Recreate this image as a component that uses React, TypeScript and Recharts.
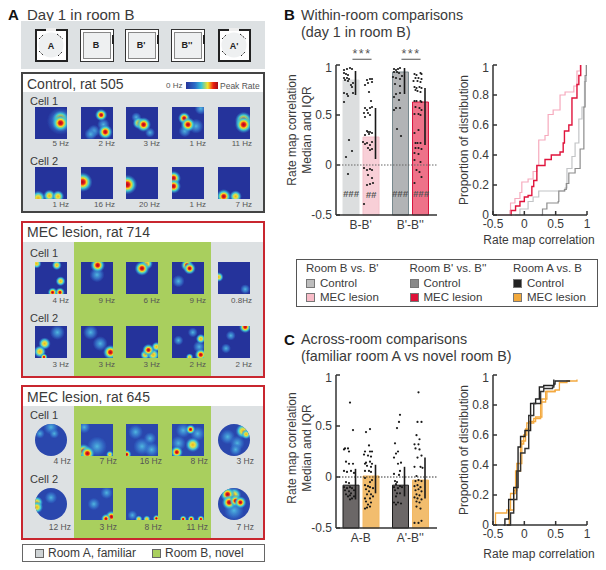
import React from "react";
import { BarChart, Bar, Cell, XAxis, YAxis, ScatterChart, Scatter, ReferenceLine, LineChart, Line } from "recharts";

const FONT = '"Liberation Sans", Arial, sans-serif';
const INK = "#3a3a3a";

// ---- panel B values
const withinCats = ["B-B'", "B'-B''"];
const withinMedians = [0.85, 0.28, 0.93, 0.63];
const withinIqr = [[0.7, 0.94], [0.06, 0.57], [0.71, 0.97], [0.2, 0.77]];
const ctlBB = [[-7,.95],[-4,.96],[-1,.97],[1,.96],[-7,.92],[-5,.91],[-3,.90],[-7,.87],[-4,.87],[-2,.86],[-6,.85],[-3,.84],[2,.82],[0,.80],[1,.78],[-7,.72],[-4,.71],[-3,.69],[2,.72],[-7,.63],[-2,.25],[-5,.08],[1,.14],[-3,-.09]];
const lesBB = [[-4,.85],[-1,.86],[1,.86],[-3,.82],[1,.83],[-6,.80],[-2,.73],[0,.64],[-6,.57],[-1,.57],[1,.58],[-4,.55],[-7,.52],[-3,.52],[-6,.48],[-1,.50],[-4,.34],[-3,.33],[-1,.33],[-6,.30],[-2,.31],[1,.32],[-8,.23],[-4,.22],[1,.23],[-6,.21],[-1,.20],[-3,.17],[-1,.15],[1,.16],[-7,-.03],[-4,-.05],[-1,-.04],[1,-.05],[-3,-.10],[1,-.13],[-4,-.20],[-1,-.19],[2,-.18],[-7,-.39]];
const ctlBBB = [[-6,.96],[-4,.95],[-2,.96],[0,.97],[-6,.93],[-3,.93],[-1,.92],[2,.89],[-7,.88],[-4,.87],[0,.86],[-5,.81],[0,.79],[-4,.71],[0,.72],[-6,.68],[-1,.65],[-4,.57],[-6,.55],[0,.57],[-3,.36],[1,.29]];
const lesBBB = [[-6,.91],[-4,.90],[0,.92],[1,.91],[-5,.87],[-2,.87],[1,.86],[-7,.84],[-3,.84],[0,.83],[-6,.78],[-4,.77],[-1,.78],[1,.77],[-5,.75],[-3,.74],[0,.73],[-6,.64],[-4,.64],[0,.64],[1,.63],[-5,.58],[-1,.57],[1,.55],[-6,.51],[-2,.51],[0,.50],[-6,.32],[-2,.35],[-5,.22],[-3,.22],[0,.22],[-5,.17],[-2,.17],[1,.16],[-6,.12],[-2,.11],[-6,.05],[0,.03],[-4,-.05],[-1,-.07],[1,-.12],[-6,-.18]];
const cdfCtlBB = [[-.15,0],[-.07,.04],[.01,.04],[.06,.09],[.14,.12],[.23,.16],[.52,.16],[.65,.18],[.68,.31],[.76,.39],[.81,.48],[.87,.64],[.92,.72],[.96,.89],[.99,1]];
const cdfLesBB = [[-.42,0],[-.23,.03],[-.22,.08],[-.15,.11],[-.07,.15],[-.04,.22],[.06,.24],[.14,.29],[.20,.33],[.23,.50],[.33,.53],[.38,.67],[.46,.70],[.57,.80],[.65,.82],[.79,.86],[.84,.96],[.89,1]];
const cdfCtlBBB = [[.27,0],[.29,.04],[.36,.08],[.54,.09],[.55,.16],[.64,.17],[.67,.21],[.71,.28],[.81,.31],[.89,.44],[.95,.72],[.97,.93],[.99,1]];
const cdfLesBBB = [[-.22,0],[-.21,.03],[-.14,.06],[-.07,.09],[0,.12],[.06,.13],[.12,.19],[.15,.23],[.20,.33],[.29,.33],[.33,.37],[.43,.40],[.52,.40],[.57,.42],[.62,.48],[.64,.56],[.71,.60],[.76,.78],[.84,.87],[.87,.93],[.90,1]];

// ---- panel C values
const acrossCats = ["A-B", "A'-B''"];
const acrossMedians = [-0.08, 0.01, -0.08, -0.03];
const acrossIqr = [[-0.22, 0.08], [-0.16, 0.12], [-0.19, 0.1], [-0.21, 0.19]];
const ctlAB = [[-1,.73],[2,.46],[-6,.28],[-3,.28],[-7,.27],[-2,.25],[-5,.15],[-2,.13],[2,.13],[-7,.06],[-4,.05],[0,.06],[3,.04],[-5,-.05],[-2,-.06],[-7,-.10],[-4,-.11],[-1,-.10],[1,-.11],[3,-.13],[-6,-.13],[-2,-.14],[0,-.16],[-5,-.17],[-1,-.18],[-3,-.19],[3,-.19],[-1,-.22],[1,-.21]];
const lesAB = [[-1,.47],[-5,.44],[-2,.31],[-6,.25],[-1,.25],[1,.25],[-7,.22],[-3,.21],[0,.20],[-5,.14],[-1,.15],[1,.13],[-6,.13],[-4,.11],[0,.10],[-6,.06],[-2,.06],[0,.05],[-6,-.01],[-1,-.05],[1,-.03],[-6,-.08],[-3,-.09],[-1,-.10],[2,-.11],[-5,-.12],[-2,-.14],[-4,-.17],[0,-.17],[-6,-.21],[-1,-.21],[2,-.19],[-5,-.24],[0,-.25],[-3,-.27],[-6,-.31],[-4,-.30],[-1,-.29]];
const ctlAB2 = [[0,.61],[-1,.54],[-3,.48],[-5,.33],[-2,.25],[-4,.23],[-6,.19],[1,.14],[-2,.13],[-6,.03],[0,.06],[-1,.02],[-5,-.04],[-3,-.05],[-4,-.07],[0,-.09],[-6,-.10],[-2,-.11],[2,-.10],[-5,-.13],[-3,-.16],[0,-.16],[-4,-.19],[-6,-.25],[-2,-.25],[1,-.26],[-4,-.27]];
const lesAB2 = [[-2,.83],[-3,.54],[1,.54],[-4,.41],[-1,.37],[-6,.32],[-2,.32],[-5,.28],[-1,.27],[1,.21],[-3,.19],[-6,.10],[0,.10],[2,.09],[-4,.01],[-5,-.04],[-2,-.03],[1,-.04],[-6,-.09],[-3,-.08],[0,-.10],[-5,-.13],[-2,-.12],[1,-.14],[-4,-.17],[-1,-.18],[-6,-.20],[-3,-.21],[1,-.22],[-4,-.24],[-1,-.25],[-4,-.29],[0,-.31],[-6,-.45],[-2,-.45],[1,-.43]];
const cdfOrange1 = [[-.5,0],[-.46,.08],[-.31,.08],[-.28,.10],[-.22,.21],[-.14,.36],[-.06,.54],[-.01,.60],[.04,.68],[.15,.71],[.26,.82],[.34,.89],[.49,.90],[.56,.95],[.68,.96],[.84,.97]];
const cdfOrange2 = [[-.28,0],[-.24,.10],[-.17,.23],[-.12,.41],[-.04,.56],[.02,.64],[.07,.69],[.18,.72],[.28,.84],[.36,.89],[.49,.90]];
const cdfBlack1 = [[-.33,0],[-.31,.04],[-.25,.17],[-.17,.25],[-.10,.52],[-.06,.59],[.01,.63],[.10,.81],[.18,.84],[.24,.92],[.31,.93],[.47,.94],[.49,.96],[.73,.96]];
const cdfBlack2 = [[-.28,0],[-.22,.08],[-.17,.17],[-.12,.36],[-.06,.48],[.01,.51],[.07,.73],[.15,.81],[.26,.89],[.31,.91],[.45,.92],[.47,.97]];

// ---- panel A rate maps, each map is a list of fields [x, y, peak, spread]
const rates505 = [["5 Hz", "2 Hz", "3 Hz", "1 Hz", "11 Hz"], ["1 Hz", "16 Hz", "20 Hz", "1 Hz", "7 Hz"]];
const rates714 = [["4 Hz", "9 Hz", "6 Hz", "9 Hz", "0.8Hz"], ["3 Hz", "3 Hz", "3 Hz", "2 Hz", "2 Hz"]];
const rates645 = [["4 Hz", "7 Hz", "16 Hz", "8 Hz", "3 Hz"], ["12 Hz", "3 Hz", "8 Hz", "11 Hz", "7 Hz"]];
const maps505 = [
  [
    [[.8,.38,3,7],[.8,.5,3,7],[.8,.44,1,11]],
    [[.63,.25,3,5],[.76,.78,3,6],[.4,.75,1,5],[.3,.85,1,5],[.7,.55,1,5]],
    [[.55,.55,3,6],[.4,.5,2,5],[.32,.32,1,4],[.75,.8,1,4]],
    [[.38,.35,3,5],[.5,.55,3,6],[.75,.6,1,6],[.4,.75,1,5],[.9,.05,1,5]],
    [[.8,.42,3,7],[.8,.55,3,7]],
  ],
  [
    [[.1,.97,2,6],[.45,.9,2,5],[.72,.92,2,5]],
    [[.05,.47,3,8]],
    [[.04,.55,3,8]],
    [[.05,.35,3,6],[.05,.6,3,6]],
    [[.18,.92,3,6],[.55,.92,2,5]],
  ],
];
const maps714 = [
  [
    [[.05,.05,2,4],[.68,.1,2,4],[.8,.6,2,4],[.55,.95,3,4],[.78,.95,3,4]],
    [[.52,.1,3,6],[.5,.4,1,6]],
    [[.5,.2,3,6],[.65,.05,2,5]],
    [[.47,.1,3,5],[.55,.2,3,5],[.2,.6,1,5]],
    [[.02,.47,2,4],[.85,.85,1,4]],
  ],
  [
    [[.3,.55,2,5],[.15,.8,2,5],[.28,.97,3,3],[.7,.2,1,6]],
    [[.92,.82,3,6],[.6,.55,1,6],[.3,.2,1,6]],
    [[.7,.75,3,5],[.95,.65,2,4],[.6,.9,2,4],[.85,.9,2,5]],
    [[.65,.2,1,4],[.2,.45,1,4],[.9,.4,2,4],[.85,.65,1,5],[.9,.9,3,5],[.55,.97,2,3]],
    [[.85,.03,3,5],[.25,.7,1,4],[.4,.3,1,4]],
  ],
];
const maps645 = [
  [
    [[.5,.1,1,6],[.6,.3,1,4],[.15,.3,1,4]],
    [[.08,.85,3,6],[.2,.92,3,6],[.1,.1,1,5],[.9,.95,2,3],[.5,.7,1,8]],
    [[.02,.95,3,4],[.3,.25,1,6],[.75,.45,1,5],[.5,.7,1,7],[.8,.8,1,6]],
    [[.58,.17,3,4],[.15,.88,3,5],[.65,.65,2,6],[.35,.2,1,6],[.8,.3,1,6],[.2,.6,1,6]],
    [[.78,.22,2,6],[.3,.4,1,6],[.6,.6,1,6],[.88,.32,2,4],[.55,.8,1,5]],
  ],
  [
    [[.06,.45,2,5],[.06,.6,2,5],[.5,.3,1,5]],
    [[.95,.9,3,5],[.78,.96,3,4],[.4,.5,1,5],[.8,.15,1,5]],
    [[.4,.97,2,3],[.65,.97,2,3],[.95,.95,3,3],[.2,.85,1,4]],
    [[.35,.97,3,3],[.6,.97,3,3],[.9,.97,3,3]],
    [[.3,.2,3,6],[.35,.45,3,6],[.55,.4,3,5],[.7,.45,3,5],[.5,.22,2,6],[.5,.7,1,8]],
  ],
];

// ---- legends
const roomGroups = ["Room B vs. B'", "Room B' vs. B''", "Room A vs. B"];
const groupLabels = ["Control", "MEC lesion"];
const legendColors = [["#bdbdbd", "#f8bcc8"], ["#8a8a8a", "#de1238"], ["#222222", "#f2a93c"]];

const T = ({ x, y, size = 12, color = INK, bold = false, right = false, center = false, children, style }: any) => (
  <div
    style={{
      position: "absolute",
      left: x,
      top: y,
      fontFamily: FONT,
      fontSize: size,
      color,
      fontWeight: bold ? 700 : 400,
      lineHeight: 1,
      whiteSpace: "nowrap",
      transform: `translate(${right ? "-100%" : center ? "-50%" : "0"}, -50%)`,
      ...style,
    }}
  >
    {children}
  </div>
);

const VT = ({ x, y, children }: any) => (
  <div
    style={{
      position: "absolute",
      left: x,
      top: y,
      fontFamily: FONT,
      fontSize: 12,
      color: INK,
      lineHeight: 1,
      whiteSpace: "nowrap",
      transform: "translate(-50%, -50%) rotate(-90deg)",
    }}
  >
    {children}
  </div>
);

const Box = ({ x, y, w, h, bg, border, children }: any) => (
  <div style={{ position: "absolute", left: x, top: y, width: w, height: h, background: bg, border, boxSizing: "border-box" }}>{children}</div>
);

const FieldDefs = () => (
  <svg width={0} height={0} style={{ position: "absolute" }}>
    <defs>
      <filter id="soft" x="-30%" y="-30%" width="160%" height="160%">
        <feGaussianBlur stdDeviation="0.7" />
      </filter>
      <radialGradient id="peak3">
        <stop offset="0%" stopColor="#a80a20" />
        <stop offset="22%" stopColor="#e8201c" />
        <stop offset="40%" stopColor="#f8d820" />
        <stop offset="62%" stopColor="#40d0d0" />
        <stop offset="100%" stopColor="#3070d0" stopOpacity={0} />
      </radialGradient>
      <radialGradient id="peak2">
        <stop offset="0%" stopColor="#f0b020" />
        <stop offset="30%" stopColor="#e8e040" />
        <stop offset="60%" stopColor="#40c8d8" />
        <stop offset="100%" stopColor="#3070d0" stopOpacity={0} />
      </radialGradient>
      <radialGradient id="peak1">
        <stop offset="0%" stopColor="#50b8e0" />
        <stop offset="55%" stopColor="#3a80d0" stopOpacity={0.75} />
        <stop offset="100%" stopColor="#3070d0" stopOpacity={0} />
      </radialGradient>
    </defs>
  </svg>
);

function RateMap({ fields, x, y, round = false, bg = "#25339b" }: any) {
  const data = fields
    .map((f: number[]) => ({ x: f[0], y: f[1], peak: f[2], spread: f[3] }))
    .sort((a: any, b: any) => a.peak - b.peak);
  return (
    <div style={{ position: "absolute", left: x, top: y, width: 32, height: 32, overflow: "hidden", borderRadius: round ? "50%" : 0 }}>
      <ScatterChart width={32} height={32} margin={{ top: 0, right: 0, bottom: 0, left: 0 }} style={{ background: bg }}>
        <XAxis type="number" dataKey="x" domain={[0, 1]} hide />
        <YAxis type="number" dataKey="y" domain={[0, 1]} reversed hide />
        <Scatter
          data={data}
          isAnimationActive={false}
          shape={(p: any) => <circle cx={p.cx} cy={p.cy} r={p.payload.spread * 1.25} fill={`url(#peak${p.payload.peak})`} filter="url(#soft)" />}
        />
      </ScatterChart>
    </div>
  );
}

const columns = [35, 81, 126, 172, 218];

function MapRow({ maps, rates, y, labelY, round = [], bg, labelSize = 8, labelOff = 34 }: any) {
  return (
    <>
      {maps.map((fields: any, i: number) => (
        <RateMap key={i} fields={fields} x={columns[i]} y={y} round={round.includes(i)} bg={bg} />
      ))}
      {rates.map((r: string, i: number) => (
        <T key={i} x={columns[i] + labelOff} y={labelY} size={labelSize} color="#555" right>
          {r}
        </T>
      ))}
    </>
  );
}

function RoomSquare({ x, label }: any) {
  return (
    <Box x={x} y={29} w={34} h={33} bg="#fff" border="1px solid #333">
      <Box x={2} y={2} w={28} h={27} bg="#eef0f1" border="1.5px solid #888" />
      <div style={{ position: "absolute", right: -1, top: 5, width: 2.5, height: 9, background: "#222" }} />
      <T x={15} y={15} size={9} bold color="#222" center>
        {label}
      </T>
    </Box>
  );
}

function RoomRound({ x, label }: any) {
  return (
    <Box x={x} y={29} w={33} h={33} bg="#fff" border="2.5px solid #222">
      <svg width={28} height={28} style={{ position: "absolute", left: 0, top: 0 }}>
        <circle cx={14} cy={14} r={12.5} fill="#eef0f1" />
        <path d="M2 8 L7 3 M20 3 L26 8 M2 20 L7 25 M21 25 L26 20" stroke="#222" strokeWidth={1} strokeDasharray="2 1.5" fill="none" />
      </svg>
      <div style={{ position: "absolute", left: 9, top: -3, width: 10, height: 3, background: "#eee" }} />
      <T x={14} y={15} size={9} bold color="#222" center>
        {label}
      </T>
    </Box>
  );
}

function Bars({ top, plotH, cats, medians, iqr, dots, fills, strokes, dotted }: any) {
  const centers = [15, 35, 64, 84.5];
  const rows = cats.map((c: string, i: number) => ({
    cat: c,
    control: [-0.5, medians[i * 2]],
    lesion: [-0.5, medians[i * 2 + 1]],
  }));
  return (
    <div style={{ position: "absolute", left: 300, top: top - 5 }}>
      <BarChart width={137} height={plotH + 27} data={rows} margin={{ top: 5, right: 0, bottom: 0, left: 0 }} barSize={16} barGap={4}>
        <XAxis
          dataKey="cat"
          height={22}
          interval={0}
          padding={{ left: 0, right: 2 }}
          tickLine={false}
          tickSize={0}
          tickMargin={5}
          axisLine={{ stroke: "#333", strokeWidth: 1.5 }}
          tick={{ fontSize: 12, fontFamily: FONT, fill: INK }}
        />
        <YAxis
          type="number"
          domain={[-0.5, 1]}
          ticks={[-0.5, 0, 0.5, 1]}
          width={36}
          tickSize={-4}
          tickMargin={8}
          axisLine={{ stroke: "#333", strokeWidth: 1.5 }}
          tickLine={{ stroke: "#333", strokeWidth: 1.5 }}
          tick={{ fontSize: 12, fontFamily: FONT, fill: INK }}
        />
        <Bar dataKey="control" isAnimationActive={false}>
          {cats.map((_: string, i: number) => (
            <Cell key={i} fill={fills[i * 2]} stroke={strokes[i * 2]} />
          ))}
        </Bar>
        <Bar dataKey="lesion" isAnimationActive={false}>
          {cats.map((_: string, i: number) => (
            <Cell key={i} fill={fills[i * 2 + 1]} stroke={strokes[i * 2 + 1]} />
          ))}
        </Bar>
      </BarChart>
      <div style={{ position: "absolute", left: 0, top: 0 }}>
        <ScatterChart width={137} height={plotH + 27} margin={{ top: 5, right: 0, bottom: 22, left: 36 }}>
          <XAxis type="number" dataKey="x" domain={[0, 101]} hide />
          <YAxis type="number" dataKey="y" domain={[-0.5, 1]} hide />
          <ReferenceLine y={0} stroke={dotted} strokeDasharray="1.5 1.5" strokeWidth={1.2} />
          {dots.map((pts: number[][], i: number) => (
            <Scatter
              key={i}
              data={pts.map((d) => ({ x: centers[i] + d[0], y: d[1] }))}
              isAnimationActive={false}
              shape={(p: any) => <circle cx={p.cx} cy={p.cy} r={1.1} fill="#1a1a1a" />}
            />
          ))}
          {iqr.map((q: number[], i: number) => (
            <Scatter
              key={`q${i}`}
              data={q.map((v) => ({ x: centers[i] + 4.5, y: v }))}
              line={{ stroke: "#1a1a1a", strokeWidth: 1.6 }}
              isAnimationActive={false}
              shape={() => <g />}
            />
          ))}
        </ScatterChart>
      </div>
    </div>
  );
}

function Cdf({ top, curves }: any) {
  return (
    <div style={{ position: "absolute", left: 457, top: top - 5 }}>
      <LineChart width={147} height={180} margin={{ top: 5, right: 17, bottom: 0, left: 0 }}>
        <XAxis
          type="number"
          dataKey="x"
          domain={[-0.5, 1]}
          ticks={[-0.5, 0, 0.5, 1]}
          height={25}
          tickSize={-4}
          tickMargin={8}
          axisLine={{ stroke: "#333", strokeWidth: 1.5 }}
          tickLine={{ stroke: "#333", strokeWidth: 1.5 }}
          tick={{ fontSize: 12, fontFamily: FONT, fill: INK }}
        />
        <YAxis
          type="number"
          domain={[0, 1]}
          ticks={[0, 0.2, 0.4, 0.6, 0.8, 1]}
          width={36}
          tickSize={-4}
          tickMargin={8}
          axisLine={{ stroke: "#333", strokeWidth: 1.5 }}
          tickLine={{ stroke: "#333", strokeWidth: 1.5 }}
          tick={{ fontSize: 12, fontFamily: FONT, fill: INK }}
        />
        {curves.map((c: any, i: number) => (
          <Line
            key={i}
            data={c.points.map((d: number[]) => ({ x: d[0], y: d[1] }))}
            dataKey="y"
            type="stepAfter"
            stroke={c.color}
            strokeWidth={c.width}
            dot={false}
            isAnimationActive={false}
          />
        ))}
      </LineChart>
    </div>
  );
}

const starStyle = { textDecoration: "underline", letterSpacing: 1.5 };
const hashStyle = { fontStyle: "italic" };

export default function App() {
  return (
    <div style={{ position: "absolute", left: 0, top: 0, width: 606, height: 570, background: "#fff", overflow: "hidden" }}>
      <FieldDefs />

      {/* panel A */}
      <T x={8} y={14} size={15} bold color="#111">A</T>
      <T x={27} y={14} size={15}>Day 1 in room B</T>
      <Box x={21} y={21} w={244} h={48} bg="#dde1e3" />
      <RoomRound x={35} label="A" />
      <RoomSquare x={80} label="B" />
      <RoomSquare x={125} label="B'" />
      <RoomSquare x={171} label="B''" />
      <RoomRound x={218} label="A'" />

      <Box x={21} y={72} w={244} h={141} bg="#dde1e3" border="2px solid #444" />
      <Box x={23} y={74} w={240} h={18} bg="#fff" />
      <T x={27} y={84} size={14}>Control, rat 505</T>
      <T x={166} y={86} size={8} color="#555">0 Hz</T>
      <div style={{ position: "absolute", left: 186, top: 82, width: 32, height: 7, background: "linear-gradient(90deg,#26349a 0%,#2c6cc8 28%,#38c4d8 48%,#f4e428 68%,#ee2010 85%,#a00c18 100%)" }} />
      <T x={220} y={86} size={8.5} color="#555">Peak Rate</T>
      <T x={30} y={101} size={11}>Cell 1</T>
      <MapRow maps={maps505[0]} rates={rates505[0]} y={107} labelY={144} />
      <T x={30} y={161} size={11}>Cell 2</T>
      <MapRow maps={maps505[1]} rates={rates505[1]} y={167} labelY={205} />

      <Box x={21} y={221} w={244} h={157} bg="#dde1e3" border="2px solid #c8262f" />
      <Box x={23} y={223} w={240} h={19} bg="#fff" />
      <Box x={74} y={242} w={137} h={134} bg="#a9cf5e" />
      <T x={27} y={232} size={14}>MEC lesion, rat 714</T>
      <T x={30} y={253} size={11}>Cell 1</T>
      <MapRow maps={maps714[0]} rates={rates714[0]} y={262} labelY={301} />
      <T x={30} y={318} size={11}>Cell 2</T>
      <MapRow maps={maps714[1]} rates={rates714[1]} y={326} labelY={365} />

      <Box x={21} y={385} w={244} h={155} bg="#dde1e3" border="2px solid #c8262f" />
      <Box x={23} y={387} w={240} h={19} bg="#fff" />
      <Box x={74} y={406} w={137} h={132} bg="#a9cf5e" />
      <T x={27} y={397} size={14}>MEC lesion, rat 645</T>
      <T x={30} y={415} size={11}>Cell 1</T>
      <MapRow maps={maps645[0]} rates={rates645[0]} y={424} labelY={461} round={[0, 4]} bg="#2a47ad" labelSize={8.5} labelOff={36} />
      <T x={30} y={479} size={11}>Cell 2</T>
      <MapRow maps={maps645[1]} rates={rates645[1]} y={488} labelY={527} round={[0, 4]} bg="#2a47ad" labelSize={8.5} labelOff={36} />

      <Box x={22} y={544} w={243} h={18} bg="#fff" border="1px solid #666" />
      <Box x={35} y={549} w={9} h={9} bg="#ced3d5" border="1px solid #666" />
      <T x={48} y={553} size={12}>Room A, familiar</T>
      <Box x={152} y={549} w={9} h={9} bg="#a9cf5e" border="1px solid #666" />
      <T x={165} y={553} size={12}>Room B, novel</T>

      {/* panel B */}
      <T x={284} y={14} size={15} bold color="#111">B</T>
      <T x={301} y={15} size={14.3}>Within-room comparisons</T>
      <T x={301} y={32} size={14.3}>(day 1 in room B)</T>
      <T x={362} y={54} size={12.5} center color="#555" style={starStyle}>***</T>
      <T x={411} y={54} size={12.5} center color="#555" style={starStyle}>***</T>
      <VT x={292} y={130}>Rate map correlation</VT>
      <VT x={307} y={130}>Median and IQR</VT>
      <Bars
        top={65}
        plotH={150}
        cats={withinCats}
        medians={withinMedians}
        iqr={withinIqr}
        dots={[ctlBB, lesBB, ctlBBB, lesBBB]}
        fills={["#dcdedf", "#f8cfd7", "#b2b4b6", "#ee7289"]}
        strokes={["#dcdedf", "#f4c0ca", "#78898e", "#d8163f"]}
        dotted="#666"
      />
      <T x={351} y={194} size={9.5} bold center color="#555" style={hashStyle}>###</T>
      <T x={371} y={195} size={9.5} bold center color="#555" style={hashStyle}>##</T>
      <T x={400} y={194} size={9.5} bold center color="#555" style={hashStyle}>###</T>
      <T x={421} y={194} size={9.5} bold center color="#555" style={hashStyle}>###</T>

      <VT x={464} y={140}>Proportion of distribution</VT>
      <Cdf
        top={65}
        curves={[
          { points: cdfCtlBB, color: "#c2c4c6", width: 1.2 },
          { points: cdfCtlBBB, color: "#8c8c8c", width: 1.2 },
          { points: cdfLesBB, color: "#f6aabd", width: 1.2 },
          { points: cdfLesBBB, color: "#e0143c", width: 1.4 },
        ]}
      />
      <T x={539} y={240} size={12} center>Rate map correlation</T>

      {/* legend */}
      <Box x={296} y={259} w={302} h={48} bg="#fff" border="1px solid #555" />
      {roomGroups.map((g, i) => {
        const colX = [306, 409.5, 513][i];
        return (
          <React.Fragment key={g}>
            <T x={colX} y={269} size={11.5}>{g}</T>
            {groupLabels.map((l, j) => (
              <React.Fragment key={l}>
                <Box x={colX} y={279 + j * 14} w={9} h={9} bg={legendColors[i][j]} border="1px solid #777" />
                <T x={colX + 14} y={283.5 + j * 14} size={11.5}>{l}</T>
              </React.Fragment>
            ))}
          </React.Fragment>
        );
      })}

      {/* panel C */}
      <T x={284} y={339} size={15} bold color="#111">C</T>
      <T x={301} y={339} size={14.3}>Across-room comparisons</T>
      <T x={301} y={356} size={14.3}>(familiar room A vs novel room B)</T>
      <VT x={292} y={448}>Rate map correlation</VT>
      <VT x={307} y={448}>Median and IQR</VT>
      <Bars
        top={375}
        plotH={153}
        cats={acrossCats}
        medians={acrossMedians}
        iqr={acrossIqr}
        dots={[ctlAB, lesAB, ctlAB2, lesAB2]}
        fills={["#6b6767", "#f2bd6e", "#6b6767", "#f2bd6e"]}
        strokes={["#1c1c1c", "#f3b862", "#1c1c1c", "#f3b862"]}
        dotted="#333"
      />
      <VT x={464} y={450}>Proportion of distribution</VT>
      <Cdf
        top={374.5}
        curves={[
          { points: cdfOrange1, color: "#f3a93f", width: 1.3 },
          { points: cdfOrange2, color: "#f3a93f", width: 1.3 },
          { points: cdfBlack1, color: "#222", width: 1.4 },
          { points: cdfBlack2, color: "#333", width: 1.4 },
        ]}
      />
      <T x={539} y={554} size={12} center>Rate map correlation</T>
    </div>
  );
}
